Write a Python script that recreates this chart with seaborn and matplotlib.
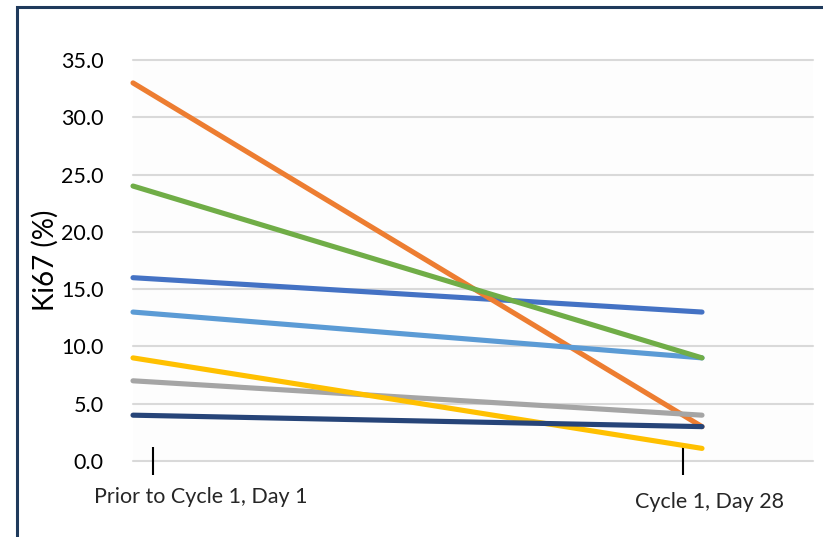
import pandas as pd
import numpy as np
import seaborn as sns
import matplotlib.pyplot as plt
from matplotlib.patches import Rectangle

sns.set_style("white")
plt.rcParams['font.family'] = ['Lato', 'DejaVu Sans']

timepoints = ["Prior to Cycle 1, Day 1", "Cycle 1, Day 28"]
patients = ["P1", "P2", "P3", "P4", "P5", "P6", "P7"]
ki67_before = [16, 33, 7, 9, 13, 24, 4]
ki67_after = [13, 3, 4, 1.1, 9, 9, 3]
colors = ["#4472C4", "#ED7D31", "#A5A5A5", "#FFC000", "#5B9BD5", "#70AD47", "#264478"]
yticks = np.arange(0, 36, 5)

rows = []
for p, b, a in zip(patients, ki67_before, ki67_after):
    rows.append({"patient": p, "t": 0, "ki67": b})
    rows.append({"patient": p, "t": 1, "ki67": a})
df = pd.DataFrame(rows)

fig = plt.figure(figsize=(8.23, 5.37), dpi=100)
fig.patch.set_facecolor("white")
ax = fig.add_axes([133/823, 1-461/537, 680/823, 401/537])
ax.set_facecolor("#FDFDFD")

# gridlines by hand so the x ticks sit on top of them
for v in yticks:
    ax.axhline(v, color="#D9D9D9", linewidth=1.5, zorder=0.2)

h = sns.lineplot(data=df, x="t", y="ki67", hue="patient", palette=colors,
                 linewidth=3.7, legend=False, ax=ax)
for ln in h.lines:
    ln.set_solid_capstyle("round")
    ln.set_clip_on(False)

h.set_xlim(0, 680/569)
h.set_ylim(0, 35)
h.set_yticks(yticks)
h.set_yticklabels([f"{v:.1f}" for v in yticks], fontsize=15.5, color="black")
h.tick_params(axis="y", length=0, pad=21)
for s in h.spines.values():
    s.set_visible(False)

h.set_xticks([20/569, 550/569])
h.set_xticklabels(["", ""])
h.tick_params(axis="x", bottom=True, direction="inout", length=20, width=1.5, color="black")
h.set_xlabel("")
h.set_ylabel("Ki67 (%)", fontsize=20, color="black")
h.yaxis.set_label_coords(-(133 - 59)/680, 0.5)

trans = h.get_xaxis_transform()
h.text(68/569, -0.09, timepoints[0], transform=trans, ha="center", va="center", fontsize=15.5)
h.text(577/569, -0.102, timepoints[1], transform=trans, ha="center", va="center", fontsize=15.5)

fig.patches.append(Rectangle((16.5/823, -0.1), 1.2, 1-6.5/537 + 0.1, transform=fig.transFigure,
                             fill=False, edgecolor="#1F3A5C", linewidth=2.2))

fig.savefig("out.png", dpi=100)
